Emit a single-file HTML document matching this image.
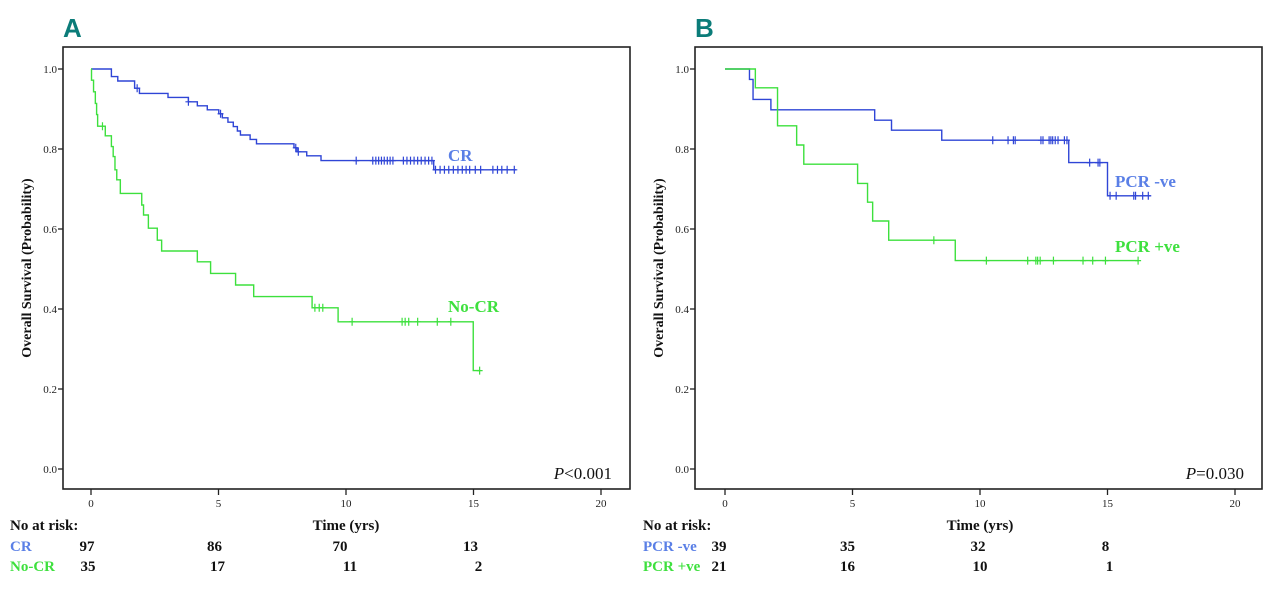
<!DOCTYPE html>
<html><head><meta charset="utf-8">
<style>
html,body{margin:0;padding:0;background:#fff;}
svg{display:block;font-family:"Liberation Serif",serif;}
</style></head>
<body>
<svg id="chart" width="1280" height="597" viewBox="0 0 1280 597" xmlns="http://www.w3.org/2000/svg"></svg>
<script>
// ---- Data ----
const xTicks = [0, 5, 10, 15, 20];
const yTicks = [0.0, 0.2, 0.4, 0.6, 0.8, 1.0];

const crTimes = [0, 0.8, 1.05, 1.71, 1.9, 3.02, 3.82, 4.17, 4.56, 5.01, 5.15, 5.37, 5.58, 5.74, 5.86, 6.24, 6.49, 7.96, 8.08, 8.46, 9.02, 13.44];
const crProbs = [1.0, 0.981, 0.97, 0.952, 0.939, 0.929, 0.918, 0.908, 0.898, 0.888, 0.878, 0.867, 0.856, 0.845, 0.835, 0.824, 0.813, 0.803, 0.793, 0.783, 0.771, 0.748];
const crEnd = 16.67;
const crCensor = [1.81, 3.82, 5.08, 8.03, 8.13, 10.4, 11.05, 11.17, 11.28, 11.39, 11.5, 11.62, 11.73, 11.84, 12.25, 12.39, 12.53, 12.67, 12.81, 12.95, 13.1, 13.24, 13.37, 13.51, 13.69, 13.86, 14.03, 14.21, 14.39, 14.56, 14.71, 14.85, 15.07, 15.28, 15.76, 15.94, 16.11, 16.32, 16.6];

const nocrTimes = [0, 0.02, 0.1, 0.17, 0.22, 0.26, 0.56, 0.8, 0.87, 0.94, 1.01, 1.15, 1.99, 2.06, 2.25, 2.6, 2.77, 4.17, 4.69, 5.67, 6.38, 8.67, 9.69, 14.99];
const nocrProbs = [1.0, 0.972, 0.943, 0.914, 0.886, 0.857, 0.833, 0.806, 0.781, 0.748, 0.723, 0.689, 0.66, 0.635, 0.602, 0.572, 0.545, 0.518, 0.489, 0.46, 0.431, 0.403, 0.368, 0.246];
const nocrEnd = 15.27;
const nocrCensor = [0.45, 8.78, 8.95, 9.09, 10.24, 12.2, 12.32, 12.46, 12.81, 13.58, 14.11, 15.24];

const pnegTimes = [0, 0.96, 1.1, 1.8, 5.87, 6.53, 8.5, 13.48, 15.0];
const pnegProbs = [1.0, 0.974, 0.924, 0.898, 0.872, 0.847, 0.822, 0.766, 0.683];
const pnegEnd = 16.7;
const pnegCensor = [10.5, 11.1, 11.31, 11.38, 12.39, 12.47, 12.71, 12.78, 12.85, 12.95, 13.06, 13.31, 13.41, 14.3, 14.63, 14.7, 15.1, 15.34, 16.03, 16.1, 16.38, 16.6];

const pposTimes = [0, 1.19, 2.06, 2.81, 3.09, 5.2, 5.59, 5.79, 6.42, 9.03];
const pposProbs = [1.0, 0.953, 0.858, 0.81, 0.762, 0.714, 0.667, 0.62, 0.572, 0.521];
const pposEnd = 16.2;
const pposCensor = [8.19, 10.25, 11.87, 12.19, 12.26, 12.36, 12.88, 14.04, 14.42, 14.92, 16.2];

const riskA1 = ["97", "86", "70", "13"];
const riskA2 = ["35", "17", "11", "2"];
const riskB1 = ["39", "35", "32", "8"];
const riskB2 = ["21", "16", "10", "1"];

// ---- Drawing ----
const NS = "http://www.w3.org/2000/svg";
const svg = document.getElementById("chart");
const BLUE = "#2f45d6", GREEN = "#3de03d", LBLUE = "#5a7fe6", LGREEN = "#3ee03e";

function mk(tag, attrs, parent, text) {
  const e = document.createElementNS(NS, tag);
  for (const k in attrs) e.setAttribute(k, attrs[k]);
  if (text !== undefined) e.textContent = text;
  (parent || svg).appendChild(e);
  return e;
}

function panel(cfg) {
  const g = mk("g", {});
  
  
  const x0 = cfg.x0, px = 25.5;
  const X = t => x0 + t * px;
  const Y = p => 469 - p * 400;

  const letter = mk("text", {x: cfg.boxL, y: 37, "font-family": "Liberation Sans, sans-serif", "font-weight": "bold", "font-size": 26, fill: "#0b7c79"}, g, cfg.letter);
  
  

  const box = mk("rect", {x: cfg.boxL, y: 47, width: cfg.boxR - cfg.boxL, height: 442, fill: "none", stroke: "#222", "stroke-width": 1.6}, g);
  
  

  yTicks.forEach(v => {
    mk("line", {x1: cfg.boxL - 5, x2: cfg.boxL, y1: Y(v), y2: Y(v), stroke: "#222", "stroke-width": 1.3}, g);
    const t = mk("text", {x: cfg.boxL - 6, y: Y(v) + 4, "font-size": 11, "text-anchor": "end", fill: "#222"}, g, v.toFixed(1));
    
    
  });
  xTicks.forEach(v => {
    mk("line", {x1: X(v), x2: X(v), y1: 489, y2: 495, stroke: "#222", "stroke-width": 1.3}, g);
    const t = mk("text", {x: X(v), y: 507, "font-size": 11, "text-anchor": "middle", fill: "#222"}, g, String(v));
    
    
  });

  const yt = mk("text", {x: 0, y: 0, "font-size": 14, "font-weight": "bold", "text-anchor": "middle", transform: `translate(${cfg.boxL - 32},268) rotate(-90)`, fill: "#111"}, g, "Overall Survival (Probability)");
  
  

  const xt = mk("text", {x: X(10), y: 530, "font-size": 15, "font-weight": "bold", "text-anchor": "middle", fill: "#111"}, g, "Time (yrs)");
  
  

  const pv = mk("text", {x: cfg.boxR - 18, y: 479, "font-size": 17, "text-anchor": "end", fill: "#111"}, g);
  
  
  mk("tspan", {"font-style": "italic"}, pv, "P");
  mk("tspan", {}, pv, cfg.p);

  cfg.series.forEach(s => {
    let d = `M${X(s.times[0])},${Y(s.probs[0])}`;
    for (let i = 1; i < s.times.length; i++) {
      d += ` H${X(s.times[i])} V${Y(s.probs[i])}`;
    }
    d += ` H${X(s.end)}`;
    const path = mk("path", {d: d, fill: "none", stroke: s.color, "stroke-width": 1.4}, g);
    
    
    s.censor.forEach(c => {
      let p = s.probs[0];
      for (let i = 0; i < s.times.length; i++) if (s.times[i] <= c) p = s.probs[i];
      const m = mk("path", {d: `M${X(c)},${Y(p) - 4} V${Y(p) + 4} M${X(c) - 3},${Y(p)} H${X(c) + 3}`, stroke: s.color, "stroke-width": 1.2, fill: "none"}, g);
      
      
    });
    const lab = mk("text", {x: s.lx, y: s.ly, "font-size": 17, "font-weight": "bold", fill: s.lcolor}, g, s.label);
    
    
  });

  const nr = mk("text", {x: cfg.tableX, y: 530, "font-size": 15, "font-weight": "bold", fill: "#111"}, g, "No at risk:");
  
  
  cfg.series.forEach((s, si) => {
    const ry = 551 + si * 20;
    const rl = mk("text", {x: cfg.tableX, y: ry, "font-size": 15, "font-weight": "bold", fill: s.lcolor}, g, s.label);
    
    
    s.risk.forEach((v, i) => {
      const rv = mk("text", {x: X(xTicks[i]) + s.roff[i], y: ry, "font-size": 15, "font-weight": "bold", "text-anchor": "middle", fill: "#111"}, g, v);
      
      
    });
  });
}

panel({
  name: "panel-a", letter: "A", x0: 91, boxL: 63, boxR: 630, p: "<0.001", tableX: 10,
  series: [
    {id: "cr", label: "CR", times: crTimes, probs: crProbs, end: crEnd, censor: crCensor, color: BLUE, lcolor: LBLUE, lx: 448, ly: 161, risk: riskA1, roff: [-4, -4, -6, -3]},
    {id: "no-cr", label: "No-CR", times: nocrTimes, probs: nocrProbs, end: nocrEnd, censor: nocrCensor, color: GREEN, lcolor: LGREEN, lx: 448, ly: 312, risk: riskA2, roff: [-3, -1, 4, 5]}
  ]
});
panel({
  name: "panel-b", letter: "B", x0: 725, boxL: 695, boxR: 1262, p: "=0.030", tableX: 643,
  series: [
    {id: "pcr-neg", label: "PCR -ve", times: pnegTimes, probs: pnegProbs, end: pnegEnd, censor: pnegCensor, color: BLUE, lcolor: LBLUE, lx: 1115, ly: 187, risk: riskB1, roff: [-6, -5, -2, -2]},
    {id: "pcr-pos", label: "PCR +ve", times: pposTimes, probs: pposProbs, end: pposEnd, censor: pposCensor, color: GREEN, lcolor: LGREEN, lx: 1115, ly: 252, risk: riskB2, roff: [-6, -5, 0, 2]}
  ]
});
</script>
</body></html>
